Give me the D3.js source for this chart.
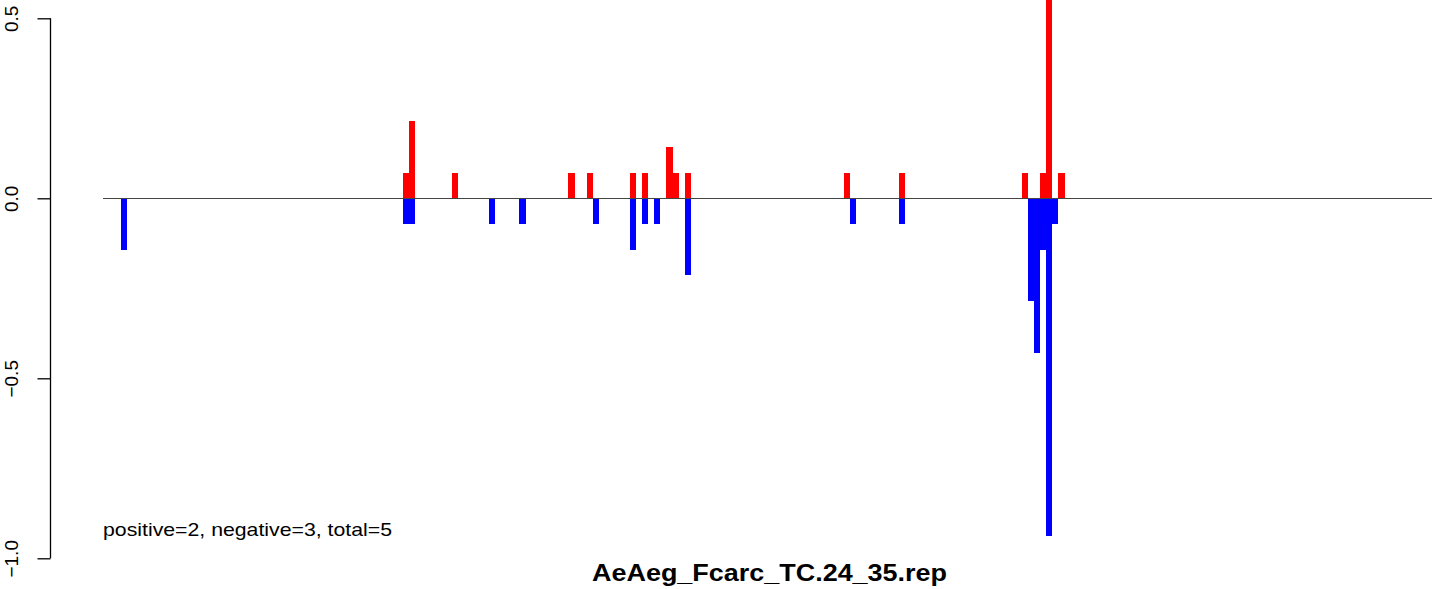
<!DOCTYPE html>
<html>
<head>
<meta charset="utf-8">
<script src="https://cdn.jsdelivr.net/npm/d3@7"></script>
<style>
  html, body { margin: 0; padding: 0; background: #fff; }
  svg { display: block; }
</style>
</head>
<body>
<svg id="chart" width="1444" height="589"></svg>
<script>
// ---- data (bin index along the sequence, value) ----
const nBins = 217;
const posBins   = [49, 50, 57, 76, 79, 86, 88, 92, 93, 95, 121, 130, 150, 153, 154, 156];
const posValues = [0.071, 0.214, 0.071, 0.071, 0.071, 0.071, 0.071, 0.143, 0.071, 0.071, 0.071, 0.071, 0.071, 0.071, 0.60, 0.071];
const negBins   = [3, 49, 50, 63, 68, 80, 86, 88, 90, 95, 122, 130, 151, 152, 153, 154, 155];
const negValues = [-0.143, -0.071, -0.071, -0.071, -0.071, -0.071, -0.143, -0.071, -0.071, -0.214, -0.071, -0.071, -0.286, -0.429, -0.143, -0.937, -0.071];
const yTicks = [-1.0, -0.5, 0.0, 0.5];
const yTickLabels = ["\u22121.0", "\u22120.5", "0.0", "0.5"];
const annotation = "positive=2, negative=3, total=5";
const title = "AeAeg_Fcarc_TC.24_35.rep";

const svg = d3.select("#chart");
const font = "'Liberation Sans', Arial, Helvetica, sans-serif";

const x = d3.scaleLinear().domain([0, nBins]).range([103, 1432]);
const y = d3.scaleLinear().domain([-1, 0.5]).range([558.3, 18.3]);
const bw = x(1) - x(0);

const pos = posBins.map((b, i) => ({ b, v: posValues[i] }));
const neg = negBins.map((b, i) => ({ b, v: negValues[i] }));

svg.append("g").attr("shape-rendering", "crispEdges")
  .selectAll("rect.pos").data(pos).join("rect")
  .attr("x", d => x(d.b)).attr("width", bw)
  .attr("y", d => y(d.v)).attr("height", d => y(0) - y(d.v))
  .attr("fill", "#ff0000");

svg.append("g").attr("shape-rendering", "crispEdges")
  .selectAll("rect.neg").data(neg).join("rect")
  .attr("x", d => x(d.b)).attr("width", bw)
  .attr("y", y(0)).attr("height", d => y(d.v) - y(0))
  .attr("fill", "#0000ff");

// zero line
svg.append("line")
  .attr("x1", x(0)).attr("x2", x(nBins))
  .attr("y1", Math.round(y(0)) + 0.5).attr("y2", Math.round(y(0)) + 0.5)
  .attr("stroke", "#444").attr("stroke-width", 1);

// y axis
const axis = d3.axisLeft(y).tickValues(yTicks)
  .tickFormat((d, i) => yTickLabels[i]).tickSize(13).tickPadding(6);
const ag = svg.append("g").attr("transform", "translate(50.5,0)").call(axis);
ag.select(".domain").remove();
ag.append("line").attr("x1", 0).attr("x2", 0).attr("y1", y(0.5)).attr("y2", y(-1))
  .attr("stroke", "#000").attr("stroke-width", 1.3);
ag.selectAll(".tick line").attr("stroke", "#000").attr("stroke-width", 1.3);
ag.selectAll(".tick text")
  .attr("font-family", font).attr("font-size", 19).attr("fill", "#000")
  .attr("text-anchor", "middle")
  .attr("x", 0).attr("dy", 0)
  .attr("transform", "translate(-32.5,0) rotate(-90)");

// annotation
svg.append("text")
  .attr("x", 103).attr("y", 536)
  .attr("font-family", font).attr("font-size", 19)
  .attr("textLength", 289).attr("lengthAdjust", "spacingAndGlyphs")
  .text(annotation);

// title
svg.append("text")
  .attr("x", 769.5).attr("y", 581)
  .attr("text-anchor", "middle")
  .attr("font-family", font).attr("font-size", 23).attr("font-weight", "bold")
  .attr("textLength", 355).attr("lengthAdjust", "spacingAndGlyphs")
  .text(title);
</script>
</body>
</html>
